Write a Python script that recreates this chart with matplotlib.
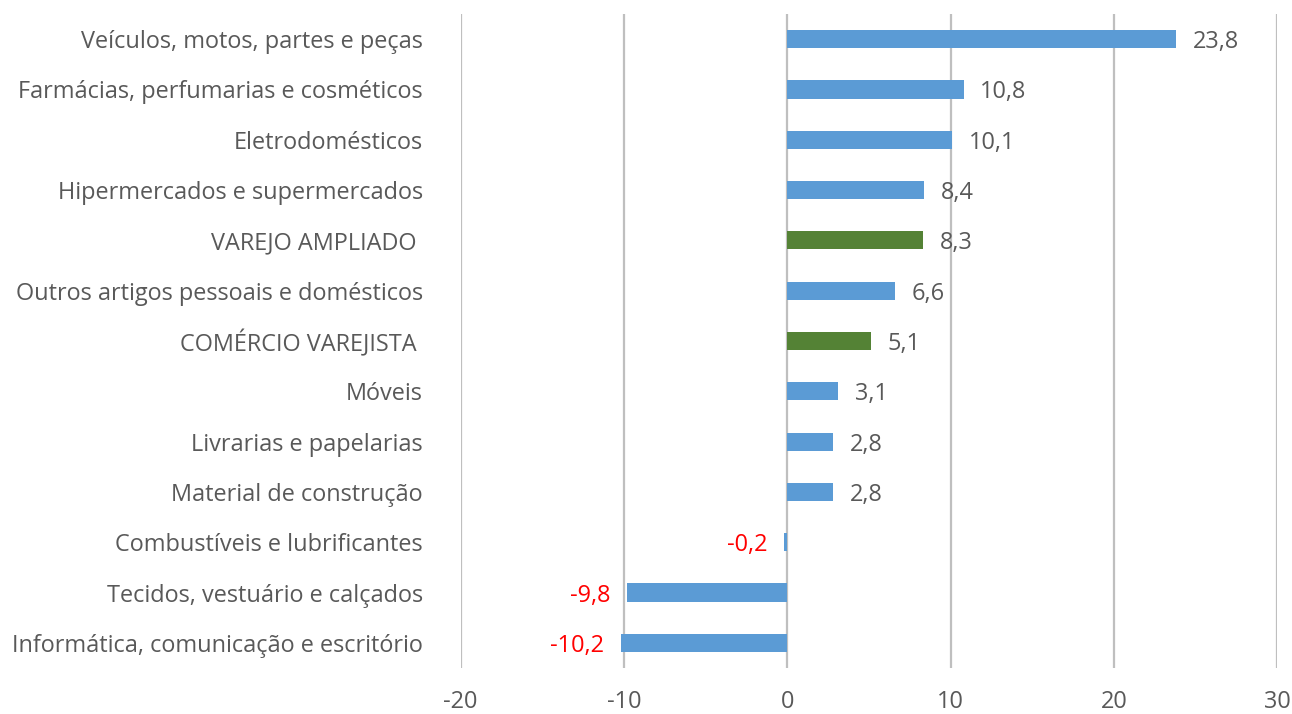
import matplotlib
matplotlib.use("Agg")
import matplotlib.pyplot as plt

categories = [
    "Veículos, motos, partes e peças",
    "Farmácias, perfumarias e cosméticos",
    "Eletrodomésticos",
    "Hipermercados e supermercados",
    "VAREJO AMPLIADO ",
    "Outros artigos pessoais e domésticos",
    "COMÉRCIO VAREJISTA ",
    "Móveis",
    "Livrarias e papelarias",
    "Material de construção",
    "Combustíveis e lubrificantes",
    "Tecidos, vestuário e calçados",
    "Informática, comunicação e escritório",
]
values = [23.8, 10.8, 10.1, 8.4, 8.3, 6.6, 5.1, 3.1, 2.8, 2.8, -0.2, -9.8, -10.2]
highlight = ["VAREJO AMPLIADO ", "COMÉRCIO VAREJISTA "]
xticks = [-20, -10, 0, 10, 20, 30]

BLUE = "#5B9BD5"
GREEN = "#548235"
TEXT = "#595959"
FONT = ["Open Sans", "DejaVu Sans"]
FS = 16.9

plt.rcParams["font.family"] = FONT

fig = plt.figure(figsize=(12.92, 7.14), dpi=100)
ax = fig.add_axes([0.3565, 0.0644, 0.632, 0.916])

y = list(range(len(categories)))
colors = [GREEN if c in highlight else BLUE for c in categories]
ax.barh(y, values, height=0.36, color=colors, zorder=3)

ax.set_ylim(len(categories) - 0.5, -0.5)
ax.set_xlim(-20, 30)
ax.set_xticks(xticks)
ax.set_xticklabels([str(t) for t in xticks], color=TEXT, fontsize=FS)
ax.set_yticks(y)
ax.set_yticklabels(categories, color=TEXT, fontsize=FS)
ax.tick_params(axis="both", length=0)
ax.tick_params(axis="y", pad=27)
ax.tick_params(axis="x", pad=16)
for s in ax.spines.values():
    s.set_visible(False)
ax.grid(axis="x", color="#BFBFBF", linewidth=1.6, zorder=0)
ax.grid(axis="y", visible=False)

for yi, v in zip(y, values):
    lbl = f"{v:.1f}".replace(".", ",")
    if v >= 0:
        ax.annotate(lbl, (v, yi), xytext=(12, 0), textcoords="offset points",
                    ha="left", va="center_baseline", color=TEXT, fontsize=FS)
    else:
        ax.annotate(lbl, (v, yi), xytext=(-12, 0), textcoords="offset points",
                    ha="right", va="center_baseline", color="#FF0000", fontsize=FS)

fig.savefig("out.png", dpi=100)
